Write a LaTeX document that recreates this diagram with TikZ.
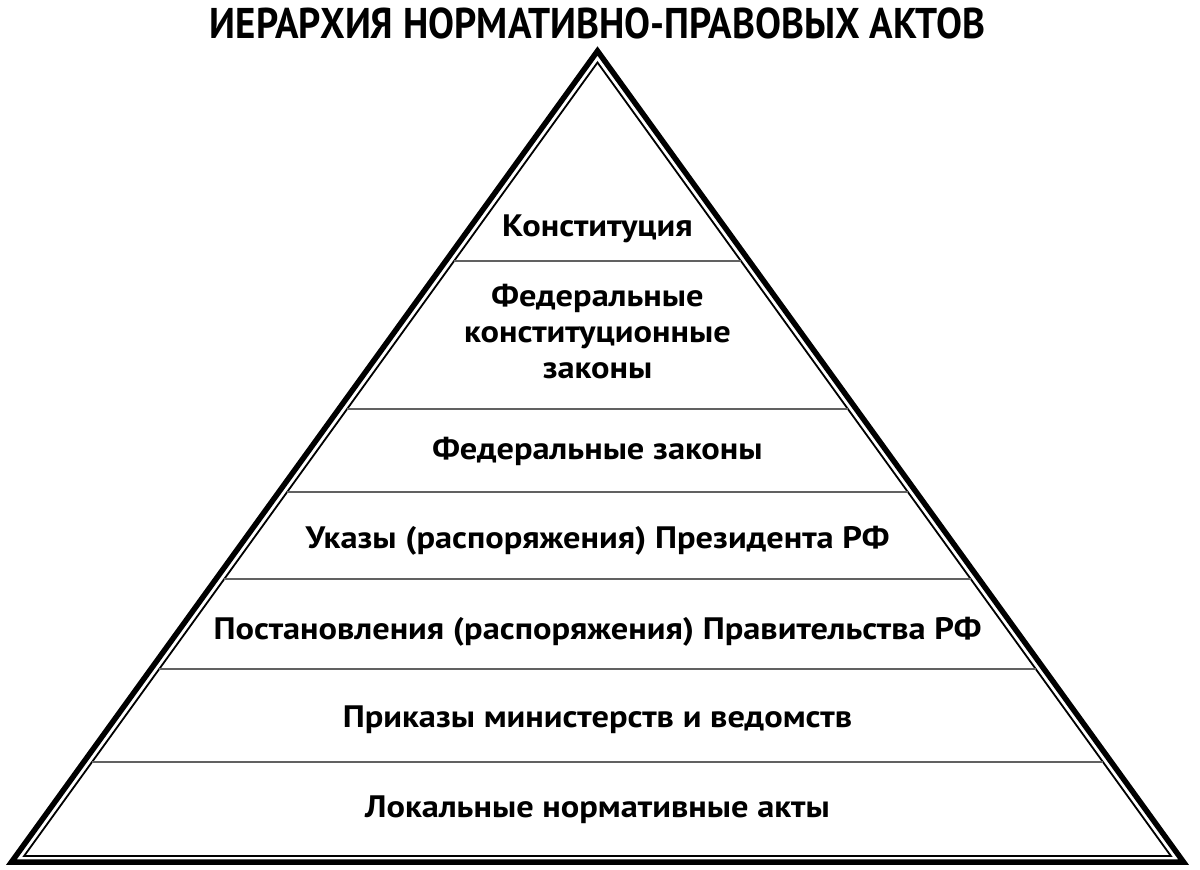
\documentclass[tikz,border=0pt]{standalone}
\usepackage{fontspec}
\setmainfont{PT Sans}[FakeStretch=1.11]
\newfontfamily\titlefont{PT Sans}
\usetikzlibrary{calc,positioning}

\begin{document}
\begin{tikzpicture}
[x=1pt,y=-1pt,
 tier/.style = {font=\fontsize{31}{36}\selectfont\bfseries, align=center, inner sep=0pt, anchor=base},
 divider/.style = {draw=black!62, line width=2pt},]
\useasboundingbox (0,0) rectangle (1200,870);
% outer and inner frame
\coordinate (A) at (597.5,51);
\coordinate (L) at (11.5,862);
\coordinate (R) at (1183.5,862);
\coordinate (iA) at (597.5,62.5);
\coordinate (iL) at (24.1,856);
\coordinate (iR) at (1170.9,856);
\draw[line width=5.5pt] (A)--(L)--(R)--cycle;
\draw[line width=1.8pt] (iA)--(iL)--(iR)--cycle;
% dividers
\foreach \y [count=\i] in {261,409,492,579,669,762}
{
\coordinate (dl\i) at ($(iA)!{(\y-62.5)/793.5}!(iL)$);
\coordinate (dr\i) at ($(iA)!{(\y-62.5)/793.5}!(iR)$);
\draw[divider] (dl\i)--(dr\i);
}
\node (title) at (597.5,38)[anchor=base,inner sep=0pt,font=\titlefont\fontsize{43}{43}\selectfont\bfseries] {\resizebox{775pt}{\height}{ИЕРАРХИЯ НОРМАТИВНО-ПРАВОВЫХ АКТОВ}};
\node (t1) at (597.5,236)[tier] {Конституция};
\node (t2) at (597.5,378)[tier] {Федеральные\\конституционные\\законы};
\node (t3) at (597.5,459)[tier] {Федеральные законы};
\node (t4) at (597.5,548)[tier] {Указы (распоряжения) Президента РФ};
\node (t5) at (597.5,639)[tier] {Постановления (распоряжения) Правительства РФ};
\node (t6) at (597.5,727)[tier] {Приказы министерств и ведомств};
\node (t7) at (597.5,817)[tier] {Локальные нормативные акты};
\end{tikzpicture}
\end{document}
